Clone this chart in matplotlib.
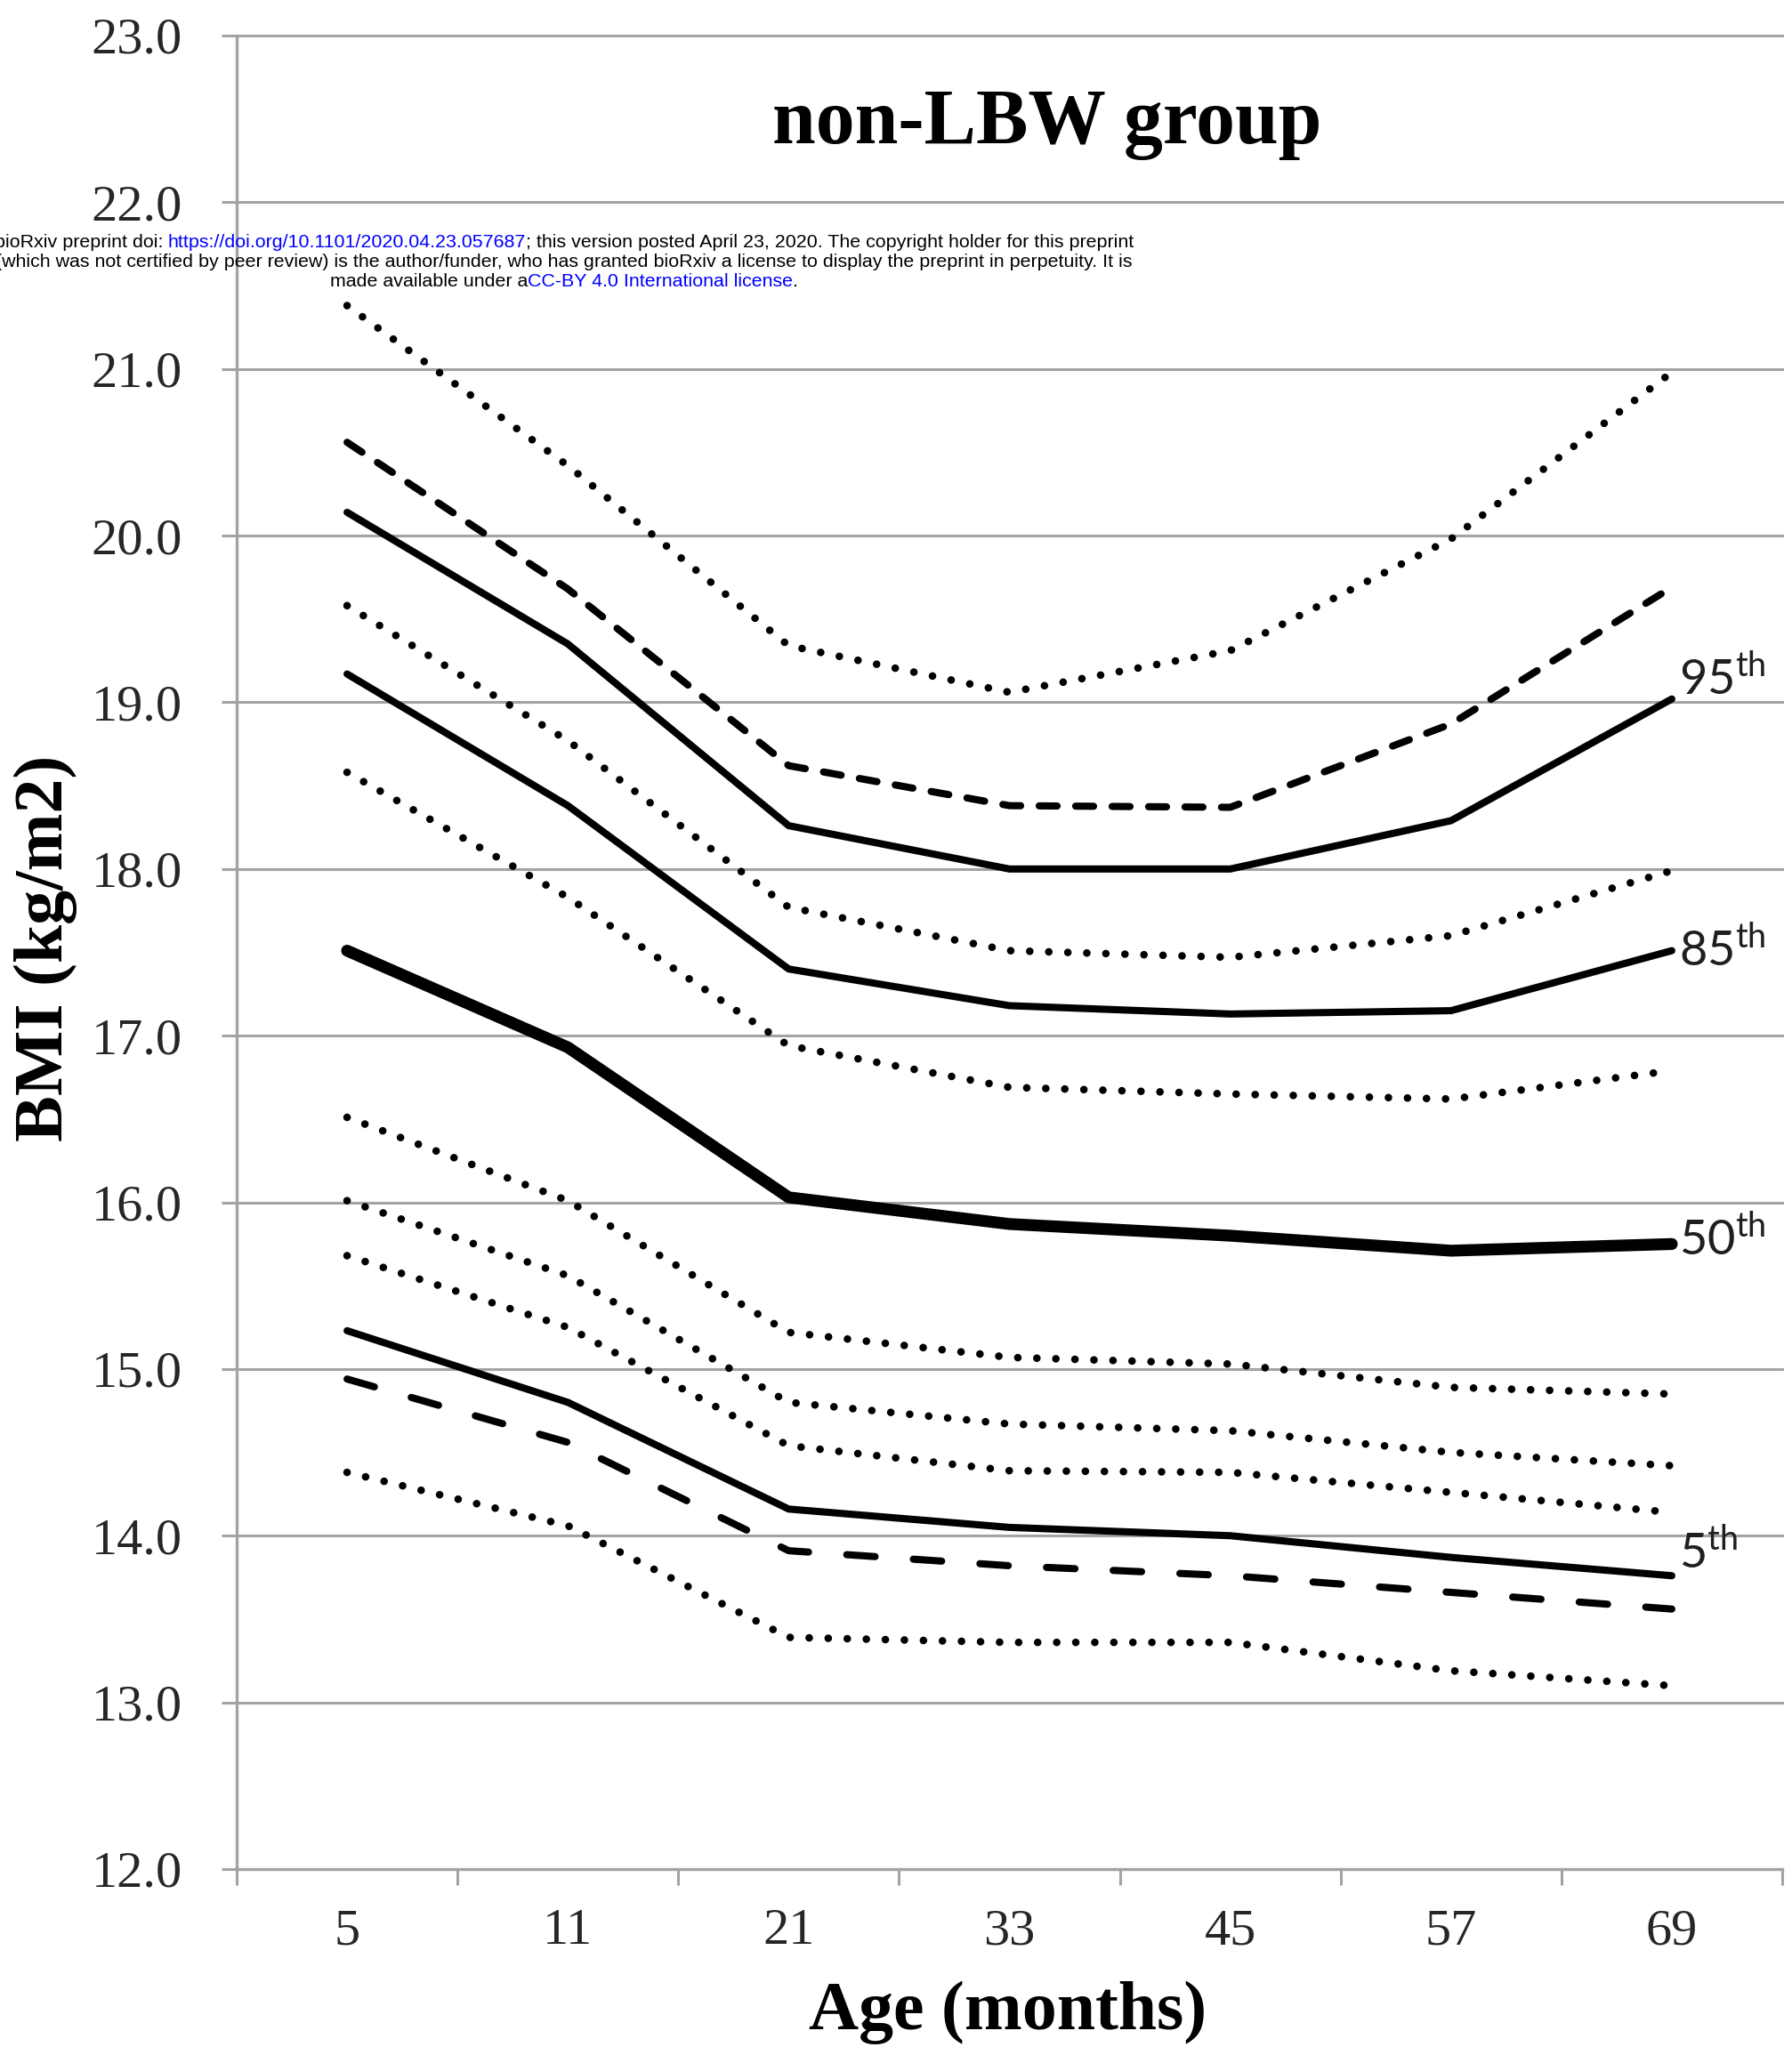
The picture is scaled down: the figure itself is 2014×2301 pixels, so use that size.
import matplotlib
matplotlib.use("Agg")
import matplotlib.pyplot as plt

AGES = ["5", "11", "21", "33", "45", "57", "69"]

# curves from top to bottom, BMI (kg/m2) at each age
DOT_TOP = [21.38, 20.42, 19.34, 19.06, 19.31, 19.98, 20.98]
DASH_TOP = [20.56, 19.68, 18.62, 18.38, 18.37, 18.87, 19.69]
P95 = [20.14, 19.35, 18.26, 18.00, 18.00, 18.29, 19.02]
DOT_2 = [19.58, 18.77, 17.77, 17.51, 17.47, 17.60, 17.99]
P85 = [19.17, 18.38, 17.40, 17.18, 17.13, 17.15, 17.51]
DOT_3 = [18.58, 17.83, 16.94, 16.69, 16.65, 16.62, 16.79]
P50 = [17.51, 16.93, 16.03, 15.87, 15.80, 15.71, 15.75]
DOT_4 = [16.51, 16.01, 15.22, 15.07, 15.03, 14.89, 14.85]
DOT_5 = [16.01, 15.56, 14.80, 14.67, 14.63, 14.50, 14.42]
DOT_6 = [15.68, 15.25, 14.54, 14.39, 14.38, 14.26, 14.14]
P5 = [15.23, 14.80, 14.16, 14.05, 14.00, 13.87, 13.76]
DASH_LOW = [14.94, 14.56, 13.91, 13.82, 13.76, 13.66, 13.56]
DOT_LOW = [14.38, 14.06, 13.39, 13.36, 13.36, 13.19, 13.10]

Y_TICKS = [12.0, 13.0, 14.0, 15.0, 16.0, 17.0, 18.0, 19.0, 20.0, 21.0, 22.0, 23.0]

LABELS = ["95", "85", "50", "5"]
LABEL_SERIES = [P95, P85, P50, P5]
LABEL_SHIFT = [0.12, 0.0, 0.03, 0.14]

W, H = 2015, 2301
GRID = "#a3a3a3"
SERIF = "Liberation Serif"

# dash patterns in points (not scaled by line width)
DOTTED = (0, (0.01, 15.4))
DASH_A = (0, (14.5, 15.0))
DASH_B = (0, (23.0, 31.0))


def draw_curves(ax):
    x = range(len(AGES))
    for ys in [DOT_TOP, DOT_2, DOT_3, DOT_4, DOT_5, DOT_6, DOT_LOW]:
        ax.plot(x, ys, color="black", lw=6.2, linestyle=DOTTED,
                dash_capstyle="round")
    for ys, style in [(DASH_TOP, DASH_A), (DASH_LOW, DASH_B)]:
        ax.plot(x, ys, color="black", lw=5.8, linestyle=style,
                dash_capstyle="round")
    for ys in [P95, P85, P5]:
        ax.plot(x, ys, color="black", lw=5.8, solid_capstyle="round",
                solid_joinstyle="round")
    ax.plot(x, P50, color="black", lw=9.6, solid_capstyle="round",
            solid_joinstyle="round")

    for lab, ys, dy in zip(LABELS, LABEL_SERIES, LABEL_SHIFT):
        ax.annotate(lab + "$^{th}$", (len(AGES) - 1, ys[-1] + dy),
                    xytext=(6, 0), textcoords="offset points",
                    ha="left", va="center", fontsize=39, family="Lato",
                    color="#1f1f1f", annotation_clip=False)


def style_axes(ax):
    ax.set_xlim(-0.5, len(AGES) - 0.5)
    ax.set_ylim(12.0, 23.0)
    ax.set_yticks(Y_TICKS)
    ax.set_yticklabels(["{:.1f}".format(v) for v in Y_TICKS])
    ax.set_xticks(range(len(AGES)))
    ax.set_xticklabels(AGES)
    ax.set_xticks([i - 0.5 for i in range(len(AGES) + 1)], minor=True)

    for side in ["top", "right"]:
        ax.spines[side].set_visible(False)
    for side in ["left", "bottom"]:
        ax.spines[side].set_color(GRID)
        ax.spines[side].set_linewidth(2.4)

    ax.grid(axis="y", color=GRID, lw=2.2)
    ax.set_axisbelow(True)
    for line in ax.get_ygridlines():
        line.set_clip_on(False)

    ax.tick_params(axis="y", length=12, width=2.2, color=GRID, pad=32,
                   labelsize=42, labelcolor="#262626")
    ax.tick_params(axis="x", which="major", length=0, pad=32,
                   labelsize=42, labelcolor="#262626")
    ax.tick_params(axis="x", which="minor", length=13, width=2.2, color=GRID)
    for t in ax.get_xticklabels() + ax.get_yticklabels():
        t.set_family(SERIF)


def centered_line(fig, y, parts, x_center, size):
    texts = []
    for s, c in parts:
        texts.append(fig.text(0, y, s, color=c, fontsize=size,
                              family="Liberation Sans", ha="left", va="center"))
    r = fig.canvas.get_renderer()
    widths = [t.get_window_extent(r).width for t in texts]
    x = x_center - sum(widths) / 2
    for t, w in zip(texts, widths):
        t.set_x(x / W)
        x += w


def add_watermark(fig):
    blue = "#0000ff"
    lines = [
        [("bioRxiv preprint doi: ", "black"),
         ("https://doi.org/10.1101/2020.04.23.057687", blue),
         ("; this version posted April 23, 2020. The copyright holder for this preprint", "black")],
        [("(which was not certified by peer review) is the author/funder, who has granted "
          "bioRxiv a license to display the preprint in perpetuity. It is", "black")],
        [("made available under a", "black"),
         ("CC-BY 4.0 International license", blue),
         (".", "black")],
    ]
    for i, parts in enumerate(lines):
        centered_line(fig, 1 - (273 + 22 * i) / H, parts, 634, 15.4)


def main():
    plt.rcParams["mathtext.default"] = "regular"
    plt.rcParams["lines.scale_dashes"] = False
    fig = plt.figure(figsize=(W / 100, H / 100), dpi=100)
    ax = fig.add_axes([266 / W, 1 - 2101 / H, (2003 - 266) / W, (2101 - 40) / H])

    draw_curves(ax)
    style_axes(ax)

    fig.text(1177 / W, 1 - 140 / H, "non-LBW group", fontsize=63,
             family=SERIF, weight="bold", ha="center", va="center")
    fig.text(1133 / W, 1 - 2262 / H, "Age (months)", fontsize=56,
             family=SERIF, weight="bold", ha="center", va="center")
    fig.text(51 / W, 1 - 1066 / H, "BMI (kg/m2)", fontsize=56,
             family=SERIF, weight="bold", ha="center", va="center",
             rotation=90)

    add_watermark(fig)
    fig.savefig("out.png", dpi=100)


if __name__ == "__main__":
    main()
